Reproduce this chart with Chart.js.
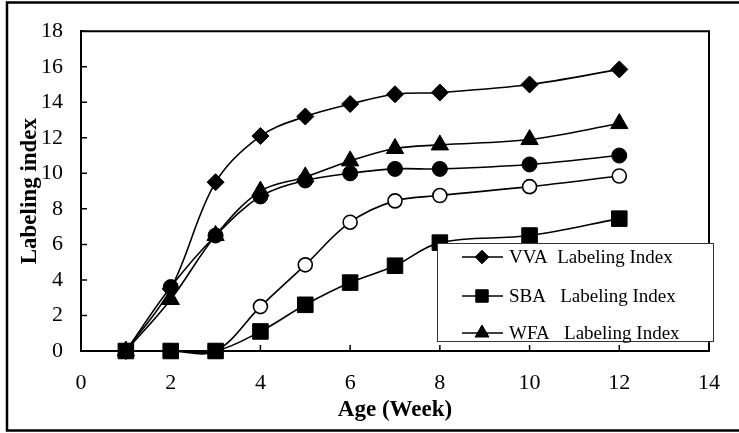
<!DOCTYPE html>
<html>
<head>
<meta charset="utf-8">
<script src="https://cdn.jsdelivr.net/npm/chart.js@4.4.0/dist/chart.umd.min.js"></script>
<style>
  html, body { margin: 0; padding: 0; background: #fff; }
</style>
</head>
<body>
<canvas id="chart" width="739" height="433"></canvas>
<script>
// Age in weeks and labeling index per group
const weeks = [1, 2, 3, 4, 5, 6, 7, 8, 10, 12];
const vva = [0, 3.5, 9.5, 12.1, 13.2, 13.9, 14.45, 14.55, 15.0, 15.85];
const sba = [0, 0, 0, 1.1, 2.6, 3.85, 4.8, 6.1, 6.5, 7.45];
const wfa = [0, 2.9, 6.5, 9.0, 9.8, 10.7, 11.4, 11.6, 11.9, 12.8];
const filledCircle = [0, 3.6, 6.5, 8.7, 9.6, 10.0, 10.25, 10.25, 10.5, 11.0];
const openCircle = [0, 0, 0, 2.5, 4.85, 7.25, 8.45, 8.75, 9.25, 9.85];

const xTicks = [0, 2, 4, 6, 8, 10, 12, 14];
const yTicks = [0, 2, 4, 6, 8, 10, 12, 14, 16, 18];

const legendLabels = ["VVA  Labeling Index", "SBA   Labeling Index", "WFA   Labeling Index"];

const serif = "'Liberation Serif', 'Times New Roman', serif";

function pts(ys) {
	return weeks.map((w, i) => ({x: w, y: ys[i]}));
}

function series(label, ys, style, radius, fill, inLegend) {
	return {
		label,
		data: pts(ys),
		borderColor: "#000",
		borderWidth: 1.6,
		pointStyle: style,
		pointRadius: radius,
		pointBackgroundColor: fill,
		pointBorderColor: "#000",
		pointBorderWidth: fill === "#fff" ? 1.6 : 1,
		tension: 0.35,
		clip: false,
		inLegend,
	};
}

// frame, plot box, inward ticks and the boxed legend
const decorations = {
	id: "decorations",
	afterDraw(chart) {
		const {ctx, chartArea: a, scales} = chart;
		ctx.save();
		ctx.strokeStyle = "#000";

		// outer frame (left, top, bottom)
		ctx.lineWidth = 2.5;
		ctx.beginPath();
		ctx.moveTo(739, 2.5);
		ctx.lineTo(7, 2.5);
		ctx.lineTo(7, 430.5);
		ctx.lineTo(739, 430.5);
		ctx.stroke();

		// top and right of the plot box
		ctx.lineWidth = 2;
		ctx.beginPath();
		ctx.moveTo(a.left, a.top);
		ctx.lineTo(a.right, a.top);
		ctx.lineTo(a.right, a.bottom);
		ctx.stroke();

		// inward tick marks
		ctx.lineWidth = 1.5;
		ctx.beginPath();
		for (const v of xTicks) {
			const px = scales.x.getPixelForValue(v);
			ctx.moveTo(px, a.bottom);
			ctx.lineTo(px, a.bottom - 6);
		}
		for (const v of yTicks) {
			const py = scales.y.getPixelForValue(v);
			ctx.moveTo(a.left, py);
			ctx.lineTo(a.left + 6, py);
		}
		ctx.stroke();

		// legend box
		const box = {x: 437, y: 243, w: 276, h: 98};
		ctx.fillStyle = "#fff";
		ctx.fillRect(box.x, box.y, box.w, box.h);
		ctx.lineWidth = 1;
		ctx.strokeStyle = "#333";
		ctx.strokeRect(box.x + 0.5, box.y + 0.5, box.w, box.h);

		const rows = [257, 296, 333];
		const ds = chart.data.datasets.filter(d => d.inLegend);
		ds.forEach((d, i) => {
			const cy = rows[i];
			ctx.strokeStyle = "#000";
			ctx.lineWidth = 1.6;
			ctx.beginPath();
			ctx.moveTo(462, cy);
			ctx.lineTo(503, cy);
			ctx.stroke();
			ctx.fillStyle = "#000";
			ctx.lineWidth = 1;
			Chart.helpers.drawPoint(ctx, {
				pointStyle: d.pointStyle,
				radius: d.pointRadius * 0.8,
				borderWidth: 1,
				rotation: 0,
			}, 482, cy);
			ctx.fillStyle = "#000";
			ctx.font = `19px ${serif}`;
			ctx.textBaseline = "middle";
			ctx.textAlign = "left";
			ctx.fillText(legendLabels[i], 509, cy + 1);
		});
		ctx.restore();
	},
};

new Chart(document.getElementById("chart"), {
	type: "line",
	data: {
		datasets: [
			series(legendLabels[0], vva, "rectRot", 8.5, "#000", true),
			series(legendLabels[1], sba, "rect", 11, "#000", true),
			series(legendLabels[2], wfa, "triangle", 10, "#000", true),
			series("Labeling Index (filled circle)", filledCircle, "circle", 7.5, "#000", false),
			series("Labeling Index (open circle)", openCircle, "circle", 7, "#fff", false),
		],
	},
	options: {
		responsive: false,
		animation: false,
		layout: {padding: {left: 0, top: 22, right: 15, bottom: 0}},
		elements: {line: {capBezierPoints: false}},
		plugins: {
			legend: {display: false},
			tooltip: {enabled: false},
		},
		scales: {
			x: {
				type: "linear",
				min: 0,
				max: 14,
				afterBuildTicks(scale) {
					scale.ticks = xTicks.map(v => ({value: v}));
				},
				afterFit(scale) {
					scale.height = 82;
				},
				grid: {display: false, drawTicks: false},
				border: {display: true, color: "#000", width: 2},
				ticks: {
					color: "#000",
					padding: 19,
					font: {family: serif, size: 22},
				},
				title: {
					display: true,
					text: "Age (Week)",
					color: "#000",
					font: {family: serif, size: 23, weight: "bold"},
					padding: {top: 0, bottom: 9},
				},
			},
			y: {
				type: "linear",
				min: 0,
				max: 18,
				afterBuildTicks(scale) {
					scale.ticks = yTicks.map(v => ({value: v}));
				},
				afterFit(scale) {
					scale.width = 81;
				},
				grid: {display: false, drawTicks: false},
				border: {display: true, color: "#000", width: 2},
				ticks: {
					color: "#000",
					padding: 18,
					font: {family: serif, size: 22},
				},
				title: {
					display: true,
					text: "Labeling index",
					color: "#000",
					font: {family: serif, size: 23, weight: "bold"},
					padding: {top: 16, bottom: 0},
				},
			},
		},
	},
	plugins: [decorations],
});
</script>
</body>
</html>
